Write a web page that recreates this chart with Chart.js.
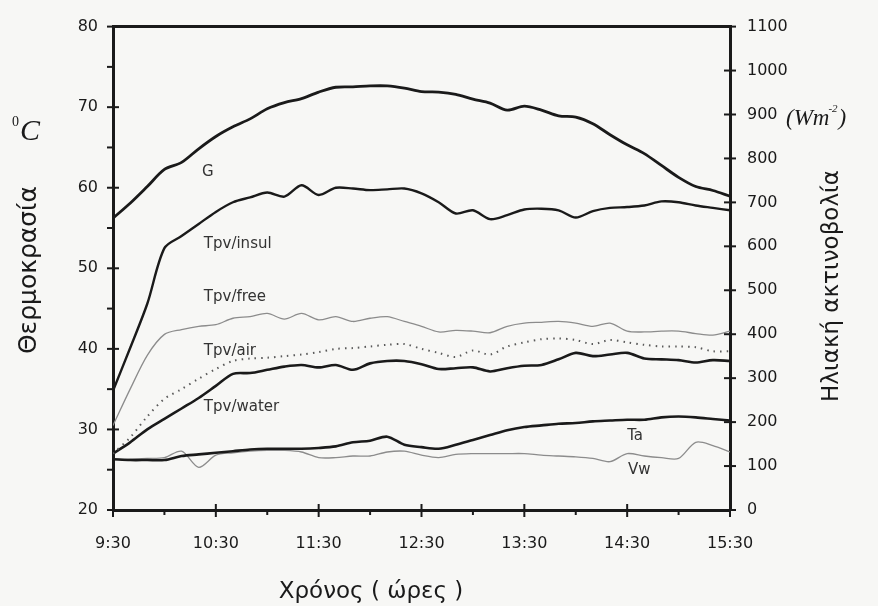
<html>
    <head>
        <meta charset="UTF-8">
        <title>Θερμοκρασία και ηλιακή ακτινοβολία</title>

        <script src="https://cdn.jsdelivr.net/npm/chart.js"></script>

        <style>
            body {
                margin: 0;
                background: #f7f7f5;
            }
            .chart_container {
                width: 878px;
                height: 606px;
            }
        </style>
    </head>

    <body>
        <div class='chart_container'>
            <canvas id='pvTemps' width='878' height='606'></canvas>
        </div>

        <script>
            // minutes after 9:30
            const minutes = [0, 10, 20, 30, 40, 50, 60, 70, 80, 90, 100, 110, 120, 130, 140, 150, 160, 170, 180,
                190, 200, 210, 220, 230, 240, 250, 260, 270, 280, 290, 300, 310, 320, 330, 340, 350, 360];
            const xTickLabels = ['9:30', '10:30', '11:30', '12:30', '13:30', '14:30', '15:30'];

            // solar radiation (W/m2), right axis
            const G = [664, 698, 736, 775, 791, 822, 850, 872, 890, 913, 927, 936, 951, 962, 963, 965, 965, 960, 952,
                951, 946, 935, 926, 910, 919, 910, 897, 894, 879, 854, 831, 811, 784, 757, 736, 727, 714];
            // temperatures (°C), left axis
            const tpvInsul = [34.8, 40.1, 45.6, 52.5, 54.0, 55.5, 57.0, 58.2, 58.8, 59.4, 58.9, 60.3, 59.1, 60.0, 59.9, 59.7, 59.8, 59.9, 59.3,
                58.2, 56.8, 57.2, 56.1, 56.6, 57.3, 57.4, 57.2, 56.3, 57.1, 57.5, 57.6, 57.8, 58.3, 58.2, 57.8, 57.5, 57.2];
            const tpvFree = [30.5, 35.0, 39.2, 41.8, 42.4, 42.8, 43.0, 43.8, 44.0, 44.4, 43.7, 44.4, 43.6, 44.0, 43.4, 43.8, 44.0, 43.4, 42.8,
                42.1, 42.3, 42.2, 42.0, 42.8, 43.2, 43.3, 43.4, 43.2, 42.8, 43.2, 42.2, 42.1, 42.2, 42.2, 41.9, 41.7, 42.2];
            const tpvAir = [27.0, 29.0, 31.6, 33.8, 35.0, 36.3, 37.5, 38.5, 38.8, 38.9, 39.1, 39.3, 39.6, 40.0, 40.1, 40.3, 40.5, 40.6, 40.0,
                39.5, 39.0, 39.8, 39.3, 40.3, 40.8, 41.2, 41.3, 41.1, 40.6, 41.1, 40.8, 40.5, 40.3, 40.3, 40.2, 39.7, 39.7];
            const tpvWater = [27.0, 28.4, 30.0, 31.3, 32.6, 33.9, 35.4, 36.9, 37.0, 37.4, 37.8, 38.0, 37.7, 38.0, 37.4, 38.2, 38.5, 38.5, 38.1,
                37.5, 37.6, 37.7, 37.2, 37.6, 37.9, 38.0, 38.7, 39.5, 39.1, 39.3, 39.5, 38.8, 38.7, 38.6, 38.3, 38.6, 38.5];
            const Ta = [26.3, 26.2, 26.2, 26.2, 26.7, 26.9, 27.1, 27.3, 27.5, 27.6, 27.6, 27.6, 27.7, 27.9, 28.4, 28.6, 29.1, 28.1, 27.8,
                27.6, 28.1, 28.7, 29.3, 29.9, 30.3, 30.5, 30.7, 30.8, 31.0, 31.1, 31.2, 31.2, 31.5, 31.6, 31.5, 31.3, 31.1];
            const Vw = [26.3, 26.3, 26.4, 26.5, 27.3, 25.3, 26.8, 27.1, 27.3, 27.4, 27.4, 27.2, 26.5, 26.5, 26.7, 26.7, 27.2, 27.3, 26.8,
                26.5, 26.9, 27.0, 27.0, 27.0, 27.0, 26.8, 26.7, 26.6, 26.4, 26.0, 27.0, 26.7, 26.5, 26.4, 28.4, 28.0, 27.2];

            // in-plot curve names, placed in data units
            const curveNames = ['G', 'Tpv/insul', 'Tpv/free', 'Tpv/air', 'Tpv/water', 'Ta', 'Vw'];
            const nameAtMinute = [52, 53, 53, 53, 53, 300, 300.5];
            const nameAtTemp = [61.9, 53.0, 46.4, 39.7, 32.8, 29.2, 24.9];

            const ink = '#1a1a1a';
            const tickFont = { family: 'DejaVu Sans', size: 16 };

            function pairs(values) {
                return minutes.map((m, i) => ({ x: m, y: values[i] }));
            }

            function line(label, values, axis, color, width, dash) {
                return {
                    label: label,
                    data: pairs(values),
                    yAxisID: axis,
                    borderColor: color,
                    backgroundColor: color,
                    borderWidth: width,
                    borderDash: dash || [],
                    pointRadius: 0,
                    tension: 0.3
                };
            }

            // tick marks that cross the axis lines
            const crossTicks = {
                id: 'crossTicks',
                afterDatasetsDraw(chart) {
                    const ctx = chart.ctx;
                    const area = chart.chartArea;
                    ctx.save();
                    ctx.strokeStyle = ink;
                    ctx.lineWidth = 2;
                    const xs = chart.scales.x;
                    xs.ticks.forEach(t => {
                        const px = xs.getPixelForValue(t.value);
                        const major = t.value % 60 === 0;
                        ctx.beginPath();
                        ctx.moveTo(px, area.bottom - (major ? 6 : 0));
                        ctx.lineTo(px, area.bottom + (major ? 7 : 5));
                        ctx.stroke();
                    });
                    const yl = chart.scales.y;
                    yl.ticks.forEach(t => {
                        const py = yl.getPixelForValue(t.value);
                        const major = t.value % 10 === 0;
                        ctx.beginPath();
                        ctx.moveTo(area.left - 6, py);
                        ctx.lineTo(area.left + (major ? 6 : 1), py);
                        ctx.stroke();
                    });
                    const yr = chart.scales.y1;
                    yr.ticks.forEach(t => {
                        const py = yr.getPixelForValue(t.value);
                        const major = t.value % 100 === 0;
                        ctx.beginPath();
                        ctx.moveTo(area.right - (major ? 6 : 1), py);
                        ctx.lineTo(area.right + 6, py);
                        ctx.stroke();
                    });
                    // top frame
                    ctx.lineWidth = 3;
                    ctx.beginPath();
                    ctx.moveTo(area.left, area.top);
                    ctx.lineTo(area.right, area.top);
                    ctx.stroke();
                    ctx.restore();
                }
            };

            // axis titles and curve names
            const textLayer = {
                id: 'textLayer',
                afterDraw(chart) {
                    const ctx = chart.ctx;
                    ctx.save();

                    ctx.font = '15px "DejaVu Sans"';
                    ctx.textAlign = 'left';
                    ctx.textBaseline = 'middle';
                    ctx.fillStyle = '#333';
                    for (let i in curveNames) {
                        const px = chart.scales.x.getPixelForValue(nameAtMinute[i]);
                        const py = chart.scales.y.getPixelForValue(nameAtTemp[i]);
                        ctx.fillText(curveNames[i], px, py);
                    }
                    ctx.fillStyle = ink;

                    ctx.textAlign = 'center';
                    ctx.font = '23px "DejaVu Sans"';
                    ctx.fillText('Χρόνος ( ώρες )', 371, 592);

                    ctx.save();
                    ctx.translate(29, 270);
                    ctx.rotate(-Math.PI / 2);
                    ctx.font = '25px "DejaVu Sans"';
                    ctx.fillText('Θερμοκρασία', 0, 0);
                    ctx.restore();

                    ctx.save();
                    ctx.translate(832, 286);
                    ctx.rotate(-Math.PI / 2);
                    ctx.font = '23px "DejaVu Sans"';
                    ctx.fillText('Ηλιακή ακτινοβολία', 0, 0);
                    ctx.restore();

                    // °C
                    ctx.textAlign = 'left';
                    ctx.textBaseline = 'alphabetic';
                    ctx.font = '14px "Liberation Serif"';
                    ctx.fillText('0', 12, 126);
                    ctx.font = 'italic 30px "Liberation Serif"';
                    ctx.fillText('C', 20, 140);

                    // (W m^-2)
                    ctx.font = 'italic 23px "Liberation Serif"';
                    ctx.fillText('(Wm', 786, 125);
                    let x = 786 + ctx.measureText('(Wm').width;
                    ctx.font = 'italic 11px "Liberation Serif"';
                    ctx.fillText('-2', x - 1, 112);
                    x += ctx.measureText('-2').width;
                    ctx.font = 'italic 23px "Liberation Serif"';
                    ctx.fillText(')', x, 125);
                    ctx.restore();
                }
            };

            const data = {
                datasets: [
                    line('G', G, 'y1', ink, 2.8),
                    line('Tpv/insul', tpvInsul, 'y', ink, 2.4),
                    line('Tpv/free', tpvFree, 'y', '#8c8c8c', 1.3),
                    line('Tpv/air', tpvAir, 'y', '#5a5a5a', 2, [1.5, 5]),
                    line('Tpv/water', tpvWater, 'y', ink, 2.6),
                    line('Ta', Ta, 'y', ink, 2.6),
                    line('Vw', Vw, 'y', '#8c8c8c', 1.3)
                ]
            };

            const config = {
                type: 'line',
                data: data,
                options: {
                    responsive: false,
                    animation: false,
                    layout: { padding: { top: 21, left: 0, right: 0, bottom: 0 } },
                    plugins: {
                        legend: { display: false },
                        tooltip: { enabled: false }
                    },
                    scales: {
                        x: {
                            type: 'linear',
                            min: 0,
                            max: 360,
                            afterFit: s => { s.height = 96; },
                            grid: { display: false, drawTicks: false },
                            border: { color: ink, width: 3 },
                            ticks: {
                                stepSize: 30,
                                autoSkip: false,
                                maxRotation: 0,
                                padding: 24,
                                color: ink,
                                font: tickFont,
                                callback: v => (v % 60 === 0 ? xTickLabels[v / 60] : '')
                            }
                        },
                        y: {
                            position: 'left',
                            min: 20,
                            max: 80,
                            afterFit: s => { s.width = 113; },
                            grid: { display: false, drawTicks: false },
                            border: { color: ink, width: 3 },
                            ticks: {
                                stepSize: 5,
                                padding: 15,
                                color: ink,
                                font: tickFont,
                                callback: v => (v % 10 === 0 ? v : '')
                            }
                        },
                        y1: {
                            position: 'right',
                            min: 0,
                            max: 1100,
                            afterFit: s => { s.width = 148; },
                            grid: { display: false, drawTicks: false },
                            border: { color: ink, width: 3 },
                            ticks: {
                                stepSize: 50,
                                padding: 17,
                                color: ink,
                                font: tickFont,
                                callback: v => (v % 100 === 0 ? v : '')
                            }
                        }
                    }
                },
                plugins: [crossTicks, textLayer]
            };

            new Chart(document.getElementById('pvTemps'), config);
        </script>
    </body>
</html>
